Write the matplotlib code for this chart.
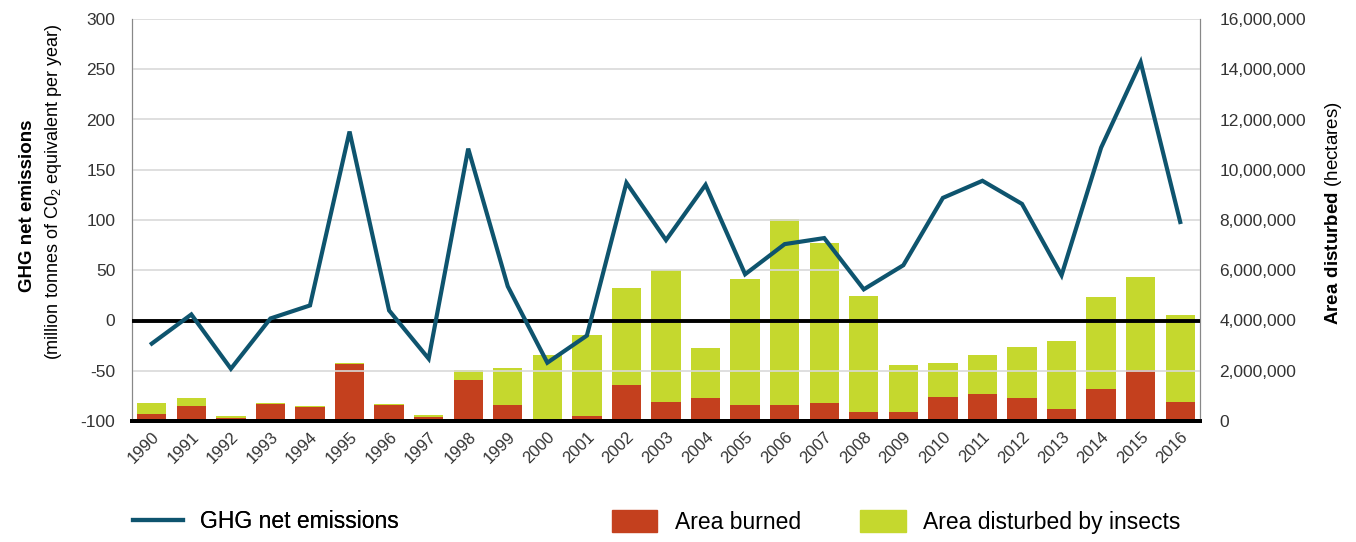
import matplotlib
matplotlib.use("Agg")
import matplotlib.pyplot as plt
import numpy as np
from matplotlib.lines import Line2D
from matplotlib.patches import Patch
from matplotlib.ticker import FuncFormatter

plt.rcParams['font.family'] = ['Liberation Sans', 'DejaVu Sans']
plt.rcParams['mathtext.fontset'] = 'custom'
plt.rcParams['mathtext.rm'] = 'Liberation Sans'
plt.rcParams['mathtext.bf'] = 'Liberation Sans:bold'
plt.rcParams['axes.unicode_minus'] = False

years = [str(y) for y in range(1990, 2017)]
ghg = [-23, 6, -48, 2, 15, 188, 10, -38, 171, 34, -42, -15, 137, 80, 135, 46,
       76, 82, 31, 55, 122, 139, 116, 45, 172, 257, 98]
burned = [279e3, 597e3, 119e3, 677e3, 557e3, 2.27e6, 637e3, 159e3, 1.63e6, 637e3,
          92e3, 199e3, 1.43e6, 756e3, 915e3, 637e3, 637e3, 716e3, 358e3, 358e3,
          955e3, 1.07e6, 915e3, 478e3, 1.27e6, 2.03e6, 756e3]
total = [704e3, 915e3, 199e3, 716e3, 597e3, 2.32e6, 677e3, 239e3, 2.03e6, 2.11e6,
         2.63e6, 3.42e6, 5.29e6, 6.01e6, 2.90e6, 5.65e6, 8.04e6, 7.08e6, 4.98e6, 2.23e6,
         2.31e6, 2.63e6, 2.95e6, 3.18e6, 4.94e6, 5.73e6, 4.22e6]
insects = [t - b for t, b in zip(total, burned)]

c_line = '#0e546e'
c_red = '#c4401e'
c_green = '#c5d82e'
txt = '#333333'

fig = plt.figure(figsize=(13.56, 5.42), dpi=100)
ax = fig.add_axes([132/1356, 1-421/542, (1200-132)/1356, (421-19)/542])
ax2 = ax.twinx()

x = np.arange(len(years))
ax2.bar(x, burned, width=0.74, color=c_red, zorder=2)
ax2.bar(x, insects, width=0.74, bottom=burned, color=c_green, zorder=2)
ax2.set_ylim(0, 16e6)
ax2.set_yticks(np.arange(0, 16e6 + 1, 2e6))
ax2.yaxis.set_major_formatter(FuncFormatter(lambda v, p: f"{int(v):,}"))

ax.set_ylim(-100, 300)
ax.set_yticks(np.arange(-100, 301, 50))
ax.set_xlim(-0.5, len(years) - 0.5)
ax.grid(axis='y', color='#d9d9d9', lw=1.2, zorder=0)
ax.set_axisbelow(True)

ax.set_zorder(ax2.get_zorder() + 1)
ax.patch.set_visible(False)
ax.axhline(0, color='black', lw=2.8, zorder=3)
ax.plot(x, ghg, color=c_line, lw=3, zorder=4, solid_joinstyle='miter')

for a in (ax, ax2):
    a.spines['top'].set_visible(False)
    a.spines['left'].set_color('#888888')
    a.spines['right'].set_color('#888888')
    a.spines['bottom'].set_color('black')
    a.spines['bottom'].set_linewidth(2.8)
    a.tick_params(axis='y', length=0, labelsize=12.5, labelcolor=txt, pad=12)
ax2.tick_params(axis='y', pad=14)
ax.set_xticks(x)
ax.set_xticklabels(years, rotation=45, ha='right', rotation_mode='anchor',
                   fontsize=12, color=txt)
ax.tick_params(axis='x', length=0, pad=6)

fig.text(28/1356, 1-206/542, 'GHG net emissions', rotation=90, ha='center',
         va='center', fontsize=13.5, fontweight='bold', color='black')
fig.text(53/1356, 1-192/542, '(million tonnes of C0$_2$ equivalent per year)',
         rotation=90, ha='center', va='center', fontsize=13, color='black')
fig.text(1333/1356, 1-213/542, r'$\bf{Area\ disturbed}$ (hectares)', rotation=90,
         ha='center', va='center', fontsize=13.5, color='black')

h1 = [Line2D([0], [0], color=c_line, lw=3)]
leg1 = fig.legend(h1, ['GHG net emissions'], loc='center left',
                  bbox_to_anchor=(112/1356, 1-522/542), frameon=False,
                  fontsize=16.5, handlelength=2.2, handletextpad=0.75)
h2 = [Patch(color=c_red), Patch(color=c_green)]
leg2 = fig.legend(h2, ['Area burned', 'Area disturbed by insects'], loc='center left',
                  bbox_to_anchor=(591/1356, 1-522/542), frameon=False, ncol=2,
                  fontsize=16.5, handlelength=2.0, handleheight=1.1,
                  handletextpad=0.75, columnspacing=2.6)
fig.add_artist(leg1)

fig.savefig('out.png', dpi=100)
